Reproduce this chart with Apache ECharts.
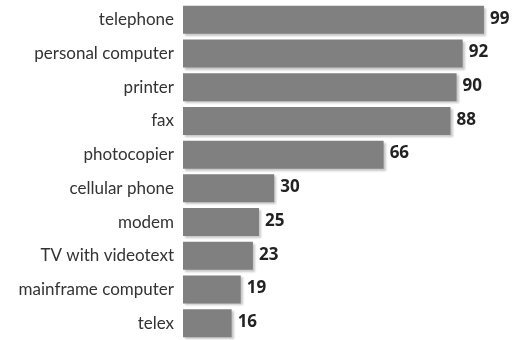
<!DOCTYPE html>
<html><head><meta charset="utf-8">
<script src="https://cdn.jsdelivr.net/npm/echarts@6/dist/echarts.min.js"></script>
<style>html,body{margin:0;padding:0;background:#fff}#c{width:518px;height:340px}</style>
</head><body><div id="c"></div>
<script>
const categories = ["telephone","personal computer","printer","fax","photocopier","cellular phone","modem","TV with videotext","mainframe computer","telex"];
const values = [99,92,90,88,66,30,25,23,19,16];
const chart = echarts.init(document.getElementById('c'));
chart.setOption({
  animation:false,
  grid:{left:183,right:31,top:3,height:338,containLabel:false},
  xAxis:{type:'value',min:0,max:100,show:false},
  yAxis:{type:'category',inverse:true,data:categories,
    axisLine:{show:false},axisTick:{show:false},
    axisLabel:{margin:9,fontFamily:'Lato',fontSize:17,color:'#333'}},
  series:[{type:'bar',data:values,barCategoryGap:'17%',
    itemStyle:{color:'#808080',shadowColor:'rgba(0,0,0,0.22)',shadowOffsetX:2,shadowOffsetY:2,shadowBlur:2},
    label:{show:true,position:'right',distance:6,offset:[0,-1],fontFamily:'Open Sans',fontWeight:'bold',fontSize:17,color:'#222'}}]
});
</script></body></html>
